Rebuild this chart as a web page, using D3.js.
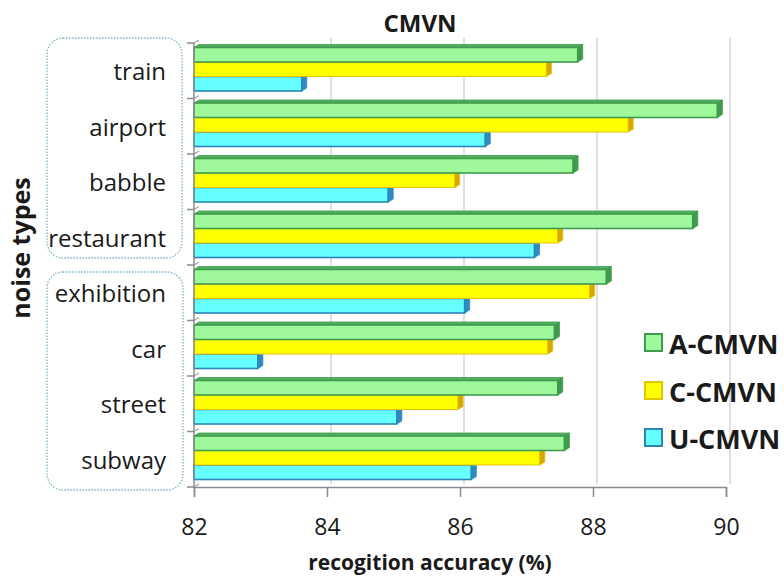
<!DOCTYPE html>
<html>
<head>
<meta charset="utf-8">
<script src="https://cdn.jsdelivr.net/npm/d3@7"></script>
<style>
  html, body { margin: 0; padding: 0; background: #fff; }
  svg { display: block; }
  text { font-family: "Open Sans", "DejaVu Sans", sans-serif; fill: #1a1a1a; }
</style>
</head>
<body>
<svg id="chart" width="784" height="576"></svg>
<script>
// Noise types, top to bottom
const categories = ["train", "airport", "babble", "restaurant", "exhibition", "car", "street", "subway"];
// Recognition accuracy (%) per normalisation method
const aCmvn = [87.77, 89.87, 87.70, 89.50, 88.20, 87.42, 87.47, 87.57];
const cCmvn = [87.30, 88.53, 85.92, 87.47, 87.95, 87.32, 85.97, 87.20];
const uCmvn = [83.62, 86.38, 84.92, 87.12, 86.07, 82.96, 85.05, 86.17];
const seriesNames = ["A-CMVN", "C-CMVN", "U-CMVN"];
const xTicks = [82, 84, 86, 88, 90];

const series = [
  { name: seriesNames[0], values: aCmvn, front: "#a0f89c", edge: "#3f9c4e", top: "#52ae5e", cap: "#3e9a4d", sw: 1.6 },
  { name: seriesNames[1], values: cCmvn, front: "#ffff00", edge: "#e3c400", top: "#d9c300", cap: "#d8a600", sw: 1.0 },
  { name: seriesNames[2], values: uCmvn, front: "#66ffff", edge: "#2b86b5", top: "#3aa6d0", cap: "#2e8cc2", sw: 1.6 }
];

const svg = d3.select("#chart");
const x = d3.scaleLinear().domain([82, 90]).range([194, 726]);
const y = d3.scaleBand().domain(categories).range([43, 487]);
const inner = d3.scaleBand().domain(seriesNames).range([4.5, 48]);
const dx = 5, dy = 3; // 3-D depth offset

// Back-wall gridlines
svg.append("g").selectAll("line").data(xTicks.slice(1)).join("line")
  .attr("x1", d => x(d) + 4).attr("x2", d => x(d) + 4)
  .attr("y1", 38).attr("y2", 484)
  .attr("stroke", "#d6d6d6").attr("stroke-width", 1.5);

// Bars, drawn bottom series first so upper bars cover hidden faces
const barsG = svg.append("g");
[...series].reverse().forEach(s => {
  const g = barsG.append("g");
  categories.forEach((c, i) => {
    const x0 = x(82), x1 = x(s.values[i]);
    const y0 = y(c) + inner(s.name), h = inner.bandwidth();
    g.append("polygon")
      .attr("points", [[x0, y0], [x0 + dx, y0 - dy], [x1 + dx, y0 - dy], [x1, y0]].join(" "))
      .attr("fill", s.top).attr("stroke", s.edge).attr("stroke-width", 0.8);
    g.append("rect")
      .attr("x", x0).attr("y", y0).attr("width", x1 - x0).attr("height", h)
      .attr("fill", s.front).attr("stroke", s.edge).attr("stroke-width", s.sw);
    g.append("polygon")
      .attr("points", [[x1, y0], [x1 + dx, y0 - dy], [x1 + dx, y0 + h - dy], [x1, y0 + h]].join(" "))
      .attr("fill", s.cap).attr("stroke", s.edge).attr("stroke-width", 0.8);
  });
});

// Axes
const axisColor = "#8c8c8c";
const xAxis = d3.axisBottom(x).tickValues(xTicks).tickSize(10).tickPadding(22);
const xg = svg.append("g").attr("transform", "translate(0,487)").call(xAxis);
xg.select(".domain").attr("stroke", axisColor).attr("stroke-width", 1.5);
xg.selectAll(".tick line").attr("stroke", axisColor).attr("stroke-width", 1.5);
xg.selectAll(".tick text")
  .style("font-family", "'Open Sans', sans-serif").style("font-size", "23px").attr("fill", "#1a1a1a");

const bounds = categories.map(c => y(c)).concat([487]);
const yg = svg.append("g");
yg.append("line").attr("x1", 194).attr("x2", 194).attr("y1", 43).attr("y2", 487)
  .attr("stroke", axisColor).attr("stroke-width", 1.5);
yg.selectAll(".yt").data(bounds).join("line").attr("class", "yt")
  .attr("x1", 187).attr("x2", 194).attr("y1", d => d).attr("y2", d => d)
  .attr("stroke", axisColor).attr("stroke-width", 1.5);
yg.selectAll(".yd").data(bounds).join("line").attr("class", "yd")
  .attr("x1", 194).attr("x2", 194 + dx).attr("y1", d => d).attr("y2", d => d - dy)
  .attr("stroke", axisColor).attr("stroke-width", 1);

// Category labels
svg.append("g").selectAll("text").data(categories).join("text")
  .attr("x", 166).attr("y", d => y(d) + y.bandwidth() / 2)
  .attr("text-anchor", "end").attr("dominant-baseline", "central")
  .style("font-size", "24px").text(d => d);

// Dotted group outlines
const groups = [{ x: 47, y: 38, w: 135, h: 220 }, { x: 47, y: 272, w: 136, h: 218 }];
svg.append("g").selectAll("rect").data(groups).join("rect")
  .attr("x", d => d.x).attr("y", d => d.y).attr("width", d => d.w).attr("height", d => d.h)
  .attr("rx", 16).attr("fill", "none").attr("stroke", "#7fb0c6")
  .attr("stroke-width", 1.3).attr("stroke-dasharray", "1.5,1.5");

// Titles
svg.append("text").attr("x", 420).attr("y", 32).attr("text-anchor", "middle")
  .style("font-size", "24px").style("font-weight", "700").text("CMVN");
svg.append("text").attr("x", 430).attr("y", 570).attr("text-anchor", "middle")
  .style("font-size", "21px").style("font-weight", "700").text("recogition accuracy (%)");
svg.append("text").attr("transform", "translate(30,248) rotate(-90)").attr("text-anchor", "middle")
  .style("font-size", "25px").style("font-weight", "700").text("noise types");

// Legend
const lg = svg.append("g").attr("transform", "translate(644,0)");
const legendY = [343, 391, 438];
series.forEach((s, i) => {
  lg.append("rect").attr("x", 1).attr("y", legendY[i] - 9).attr("width", 17).attr("height", 17)
    .attr("fill", s.front).attr("stroke", s.edge).attr("stroke-width", 2);
  lg.append("text").attr("x", 25).attr("y", legendY[i]).attr("dominant-baseline", "central")
    .style("font-size", "27px").style("font-weight", "700").text(s.name);
});
</script>
</body>
</html>
